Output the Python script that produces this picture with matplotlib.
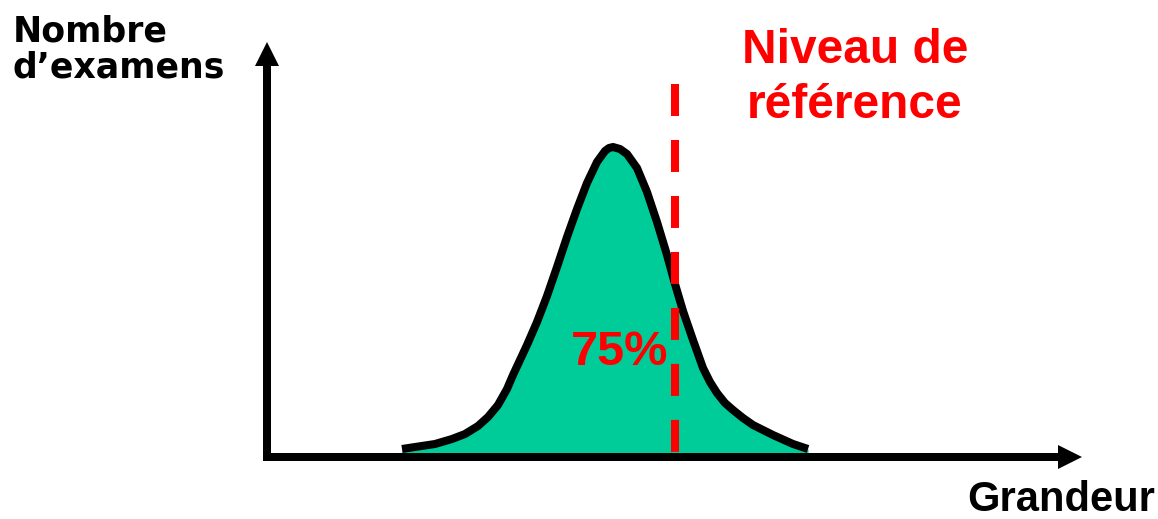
import matplotlib.pyplot as plt

# distribution curve (x = grandeur, y = height above the x axis)
curve_x = [402, 415, 435, 452, 465, 478, 488, 498, 507, 513, 520, 527, 537, 547, 557, 567,
           577, 587, 597, 605, 609, 613, 620, 627, 637, 647, 657, 667, 675, 683, 693, 703,
           710, 717, 725, 733, 743, 753, 773, 793, 808]
curve_y = [8, 10, 13, 18, 23, 31, 40, 52, 68, 82, 97, 112, 135, 161, 190, 220,
           248, 274, 295, 306, 309, 310, 308, 303, 289, 265, 235, 202, 173, 146, 117, 89,
           75, 64, 54, 47, 39, 32, 22, 13, 8]

ref_level = 675
ref_top = 373
percent_label = "75%"

fig = plt.figure(figsize=(11.58, 5.19), dpi=100)
ax = fig.add_axes([0, 0, 1, 1])
ax.set_xlim(0, 1158)
ax.set_ylim(-62, 457)
ax.axis("off")

ax.fill_between(curve_x, 0, curve_y, color="#00CC99", lw=0, zorder=1)
ax.plot(curve_x, curve_y, color="black", lw=5.8, solid_joinstyle="round",
        solid_capstyle="butt", zorder=3)

# reference level, drawn from the top down so the dash pattern starts at the top
ax.plot([ref_level, ref_level], [ref_top, 4], color="#FF0000", lw=5.8,
        linestyle=(0, (3.97, 2.98)), dash_capstyle="butt", zorder=4)

# axes with arrow heads
ax.arrow(267, -4, 0, 419, width=8, head_width=24, head_length=24,
         length_includes_head=True, color="black", lw=0, zorder=5)
ax.arrow(263, 0, 819, 0, width=8, head_width=24, head_length=24,
         length_includes_head=True, color="black", lw=0, zorder=5)

ax.text(13, 415, "Nombre", fontsize=25, fontweight="bold", family="DejaVu Sans",
        ha="left", va="baseline")
ax.text(13, 380, "d\u2019examens", fontsize=25, fontweight="bold", family="DejaVu Sans",
        ha="left", va="baseline")
ax.text(1155, -54, "Grandeur", fontsize=30, fontweight="bold",
        family="Liberation Sans", ha="right", va="baseline")
ax.text(855, 394, "Niveau de", fontsize=34.5, fontweight="bold",
        family="Liberation Sans", color="#FF0000", ha="center", va="baseline")
ax.text(855, 339, "r\u00e9f\u00e9rence", fontsize=34.5, fontweight="bold",
        family="Liberation Sans", color="#FF0000", ha="center", va="baseline")
ax.text(620, 92, percent_label, fontsize=35, fontweight="bold",
        family="Liberation Sans", color="#FF0000", ha="center", va="baseline", zorder=6)

fig.savefig("out.png", dpi=100)
